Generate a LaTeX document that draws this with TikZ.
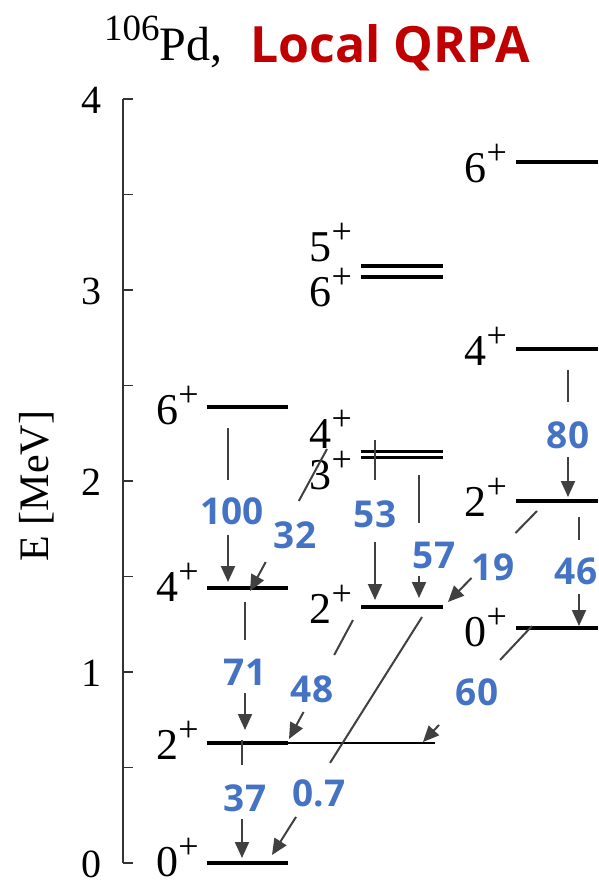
\documentclass[tikz,border=0pt]{standalone}
\usepackage{fontspec}
\setmainfont{Liberation Serif}
\newfontfamily\numfont{Open Sans}
\usetikzlibrary{arrows.meta,calc}
\definecolor{numblue}{HTML}{4472C4}
\definecolor{titlered}{HTML}{C00000}
\definecolor{arrgray}{HTML}{404040}
\newcommand\lv[1]{#1\raisebox{18pt}{\fontsize{36}{36}\selectfont +}}
\newcommand\gam[4]{%
  \draw[agam] (#1) -- ($(#1)!#3!(#2)$);
  \draw[agam,-{Triangle[length=16pt,width=14pt]}] ($(#1)!#4!(#2)$) -- (#2);}
\tikzset{
  lvl/.style={line width=3.5pt, black},
  lvlthin/.style={line width=1.3pt, black},
  agam/.style={line width=2pt, arrgray},
  axisline/.style={line width=1.3pt, black!80},
  lvlab/.style={anchor=base east, inner sep=0pt, font=\fontsize{44}{44}\selectfont},
  ticklab/.style={anchor=base east, inner sep=0pt, font=\fontsize{40}{40}\selectfont},
  numlab/.style={inner sep=0pt, text=numblue, font=\numfont\bfseries\fontsize{37}{37}\selectfont}
}
\begin{document}
\begin{tikzpicture}[x=1pt,y=-1pt]
\useasboundingbox (0,0) rectangle (598,886);
% title
\node[anchor=base west, inner sep=0pt, font=\fontsize{48}{48}\selectfont] (ttl) at (104,60)
  {\raisebox{20pt}{\fontsize{37}{37}\selectfont 106}Pd,};
\node[anchor=base west, inner sep=0pt, text=titlered, font=\numfont\bfseries\fontsize{50}{50}\selectfont] (ttl2) at (250,62) {Local QRPA};
% axis
\draw[axisline] (123,99) -- (123,863);
\foreach \k in {0,...,8} \draw[axisline] (123,{863-95.5*\k}) -- (133,{863-95.5*\k});
\foreach \v in {0,...,4} \node[ticklab] (tk\v) at (102,{877-191*\v}) {\v};
\node[rotate=90, inner sep=0pt, font=\fontsize{42}{42}\selectfont] (ylab) at (37,486) {E [MeV]};
% band 1
\draw[lvl] (207,863) -- (288,863);
\draw[lvl] (207,743) -- (288,743);
\draw[lvlthin] (288,743) -- (435,743);
\draw[lvl] (207,588) -- (288,588);
\draw[lvl] (207,407) -- (288,407);
\node[lvlab] (a0) at (199,876) {\lv{0}};
\node[lvlab] (a2) at (199,759) {\lv{2}};
\node[lvlab] (a4) at (199,601) {\lv{4}};
\node[lvlab] (a6) at (199,424) {\lv{6}};
% band 2
\draw[lvl] (361,607) -- (443,607);
\draw[line width=3pt] (361,451) -- (443,451);
\draw[line width=3pt] (361,457) -- (443,457);
\draw[lvl] (361,266) -- (443,266);
\draw[lvl] (361,277) -- (443,277);
\node[lvlab] (b2) at (352,623) {\lv{2}};
\node[lvlab] (b4) at (352,448) {\lv{4}};
\node[lvlab] (b3) at (352,489) {\lv{3}};
\node[lvlab] (b5) at (352,261) {\lv{5}};
\node[lvlab] (b6) at (352,306) {\lv{6}};
% band 3
\draw[lvl] (516,628) -- (598,628);
\draw[lvl] (516,501) -- (598,501);
\draw[lvl] (516,349) -- (598,349);
\draw[lvl] (516,162) -- (598,162);
\node[lvlab] (c0) at (507,646) {\lv{0}};
\node[lvlab] (c2) at (507,516) {\lv{2}};
\node[lvlab] (c4) at (507,365) {\lv{4}};
\node[lvlab] (c6) at (507,182) {\lv{6}};
% transition end points
\coordinate (s100) at (228,428); \coordinate (e100) at (228,582);
\coordinate (s32) at (327,449);  \coordinate (e32) at (250,591);
\coordinate (s53) at (375,440);  \coordinate (e53) at (375,600);
\coordinate (s57) at (419,475);  \coordinate (e57) at (419,598);
\coordinate (s80) at (568,370);  \coordinate (e80) at (568,497);
\coordinate (s46) at (579,517);  \coordinate (e46) at (579,626);
\coordinate (s19) at (537,511);  \coordinate (e19) at (448,602);
\coordinate (s60) at (532,626);  \coordinate (e60) at (423,742);
\coordinate (s71) at (245,602);  \coordinate (e71) at (245,730);
\coordinate (s37) at (242,740);  \coordinate (e37) at (242,858);
\coordinate (s48) at (353,620);  \coordinate (e48) at (289,739);
\coordinate (s07) at (422,617);  \coordinate (e07) at (272,855);
\gam{s100}{e100}{0.338}{0.695}
\gam{s32}{e32}{0.366}{0.796}
\gam{s53}{e53}{0.25}{0.6375}
\gam{s57}{e57}{0.39}{0.82}
\gam{s80}{e80}{0.252}{0.685}
\gam{s46}{e46}{0.209}{0.709}
\gam{s19}{e19}{0.242}{0.736}
\gam{s60}{e60}{0.293}{0.853}
\gam{s71}{e71}{0.297}{0.711}
\gam{s37}{e37}{0.212}{0.669}
\gam{s48}{e48}{0.294}{0.773}
\gam{s07}{e07}{0.613}{0.84}
% labels
\node[numlab] (n100) at (232,511) {100};
\node[numlab] (n32) at (295,535) {32};
\node[numlab] (n53) at (375,514) {53};
\node[numlab] (n57) at (434,555) {57};
\node[numlab] (n80) at (568,435) {80};
\node[numlab] (n19) at (493,567) {19};
\node[numlab] (n46) at (576,571) {46};
\node[numlab] (n60) at (477,692) {60};
\node[numlab] (n71) at (245,672) {71};
\node[numlab] (n48) at (312,689) {48};
\node[numlab] (n37) at (245,798) {37};
\node[numlab] (n07) at (319,793) {0.7};
\end{tikzpicture}
\end{document}
